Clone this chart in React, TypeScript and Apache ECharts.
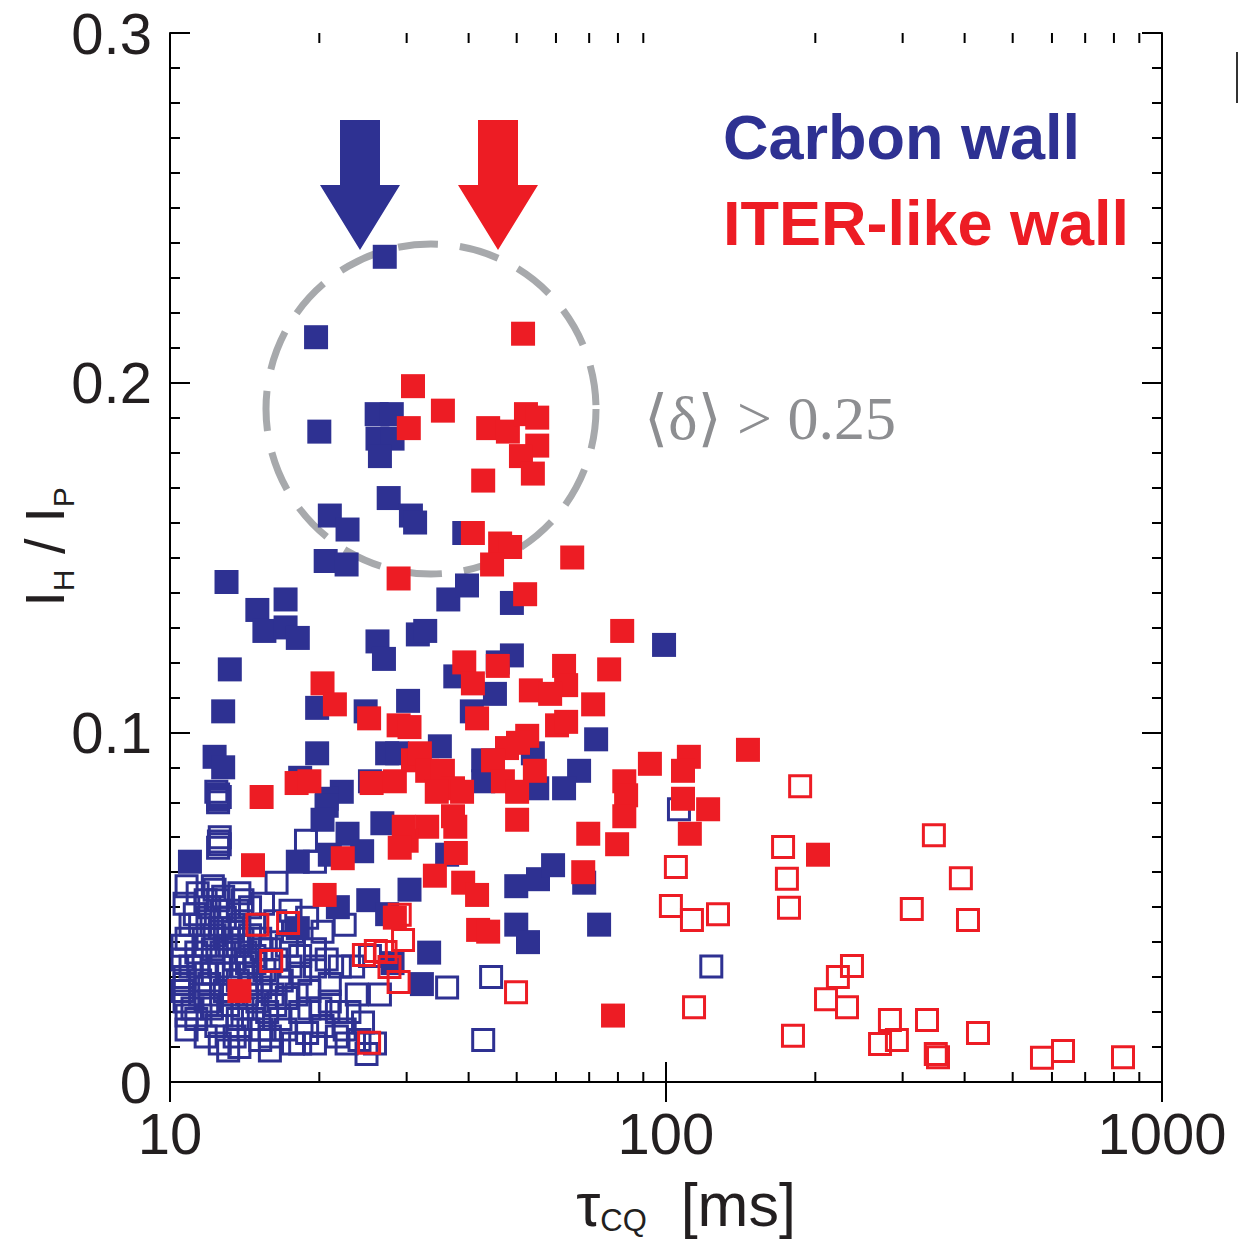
import React, { useEffect, useRef } from "react";
import * as echarts from "echarts";

const SANS = "'Liberation Sans', Arial, Helvetica, sans-serif";
const SERIF = "'Liberation Serif', 'DejaVu Serif', 'Times New Roman', serif";
const BLUE = "#2E3192";
const RED = "#ED1C24";
const INK = "#231F20";

// tick values
const yTickLabels = ["0", "0.1", "0.2", "0.3"];
const xMinorTicks = [20, 30, 40, 50, 60, 70, 80, 90, 200, 300, 400, 500, 600, 700, 800, 900];

// Carbon wall, filled symbols  [tau_CQ (ms), I_H/I_P]
const carbonFilled: number[][] = [
  [27.1, 0.236], [19.7, 0.213], [20.0, 0.186], [26.1, 0.191], [28.0, 0.191], [26.2, 0.184], [28.1, 0.184], [26.5, 0.179],
  [27.6, 0.167], [21.0, 0.162], [22.8, 0.158], [30.6, 0.162], [31.2, 0.160], [39.2, 0.157], [20.6, 0.149], [22.7, 0.148],
  [13.0, 0.143], [15.0, 0.135], [17.1, 0.138], [15.5, 0.129], [17.1, 0.130], [18.1, 0.127], [13.2, 0.118], [26.2, 0.126],
  [27.0, 0.121], [12.8, 0.106], [19.8, 0.107], [24.8, 0.106], [30.2, 0.109], [12.3, 0.093], [12.8, 0.090], [19.8, 0.094],
  [27.4, 0.094], [28.7, 0.094], [18.3, 0.087], [22.2, 0.083], [20.7, 0.081], [25.3, 0.086], [31.6, 0.128],
  [36.4, 0.138], [39.7, 0.142], [48.9, 0.137], [32.7, 0.129], [48.9, 0.122], [45.8, 0.120], [37.6, 0.116], [45.2, 0.111],
  [40.6, 0.106], [99.1, 0.125], [72.3, 0.098], [66.8, 0.089], [62.3, 0.084], [42.8, 0.092], [42.8, 0.086], [35.0, 0.096],
  [53.9, 0.094], [55.0, 0.084],
  [49.9, 0.056], [55.2, 0.058], [59.2, 0.062], [49.9, 0.045], [52.7, 0.040], [73.3, 0.045], [68.4, 0.057], [33.3, 0.037],
  [32.2, 0.028], [30.4, 0.055], [36.2, 0.065],
  [10.97, 0.063], [20.7, 0.079], [20.3, 0.075], [26.8, 0.074], [22.8, 0.071], [24.4, 0.066], [21.0, 0.065], [18.1, 0.063],
  [21.8, 0.050], [25.1, 0.052], [27.4, 0.048], [18.1, 0.044], [28.1, 0.034],
];

// Carbon wall, open symbols
const carbonOpen: number[][] = [
  [12.4, 0.083], [12.5, 0.0822], [12.6, 0.0815], [12.5, 0.0808], [12.5, 0.080], [12.6, 0.070], [12.55, 0.0688], [12.6, 0.068],
  [12.5, 0.067], [18.8, 0.069], [19.6, 0.063],
  [16.4, 0.057], [36.2, 0.027], [44.4, 0.030], [42.8, 0.012], [106.2, 0.078], [123.4, 0.033],
  [11.37, 0.054], [12.3, 0.055], [12.8, 0.053], [11.8, 0.052], [12.0, 0.050], [12.7, 0.049], [13.7, 0.049], [14.5, 0.050],
  [15.4, 0.051], [11.5, 0.045], [10.8, 0.041], [11.7, 0.041], [12.6, 0.044], [13.4, 0.044], [10.6, 0.035], [11.3, 0.037],
  [12.2, 0.038], [13.2, 0.039], [14.0, 0.041], [15.2, 0.041], [10.7, 0.028], [11.5, 0.029], [12.2, 0.031], [14.3, 0.034],
  [16.4, 0.035], [17.5, 0.033], [17.2, 0.039], [17.7, 0.043], [11.1, 0.021], [12.0, 0.023], [14.3, 0.025], [15.2, 0.027],
  [16.1, 0.025], [17.2, 0.024], [18.0, 0.025], [11.3, 0.018], [12.4, 0.016], [13.7, 0.018], [14.7, 0.018], [15.7, 0.020],
  [16.7, 0.018], [18.3, 0.020], [12.6, 0.011], [13.8, 0.010], [15.2, 0.012], [15.9, 0.009], [17.7, 0.011], [18.9, 0.014],
  [20.3, 0.016], [21.7, 0.013], [22.7, 0.011], [24.1, 0.012], [24.9, 0.008], [20.1, 0.021], [21.7, 0.020], [23.0, 0.020],
  [24.5, 0.017], [20.7, 0.035], [22.0, 0.033], [23.4, 0.033], [25.3, 0.036], [23.8, 0.025], [26.5, 0.025], [20.3, 0.043],
  [18.9, 0.047], [22.5, 0.045], [12.9, 0.047], [13.4, 0.043], [13.8, 0.045], [13.1, 0.041], [14.2, 0.037], [13.5, 0.035],
  [12.6, 0.033], [14.5, 0.031], [13.7, 0.029], [12.9, 0.026], [15.5, 0.032], [15.9, 0.038], [14.8, 0.045], [12.15, 0.021],
  [13.1, 0.022], [14.0, 0.021], [15.0, 0.023], [16.3, 0.022], [16.8, 0.029], [17.1, 0.015], [18.3, 0.011], [19.6, 0.011],
  [10.7, 0.023], [10.8, 0.015], [11.8, 0.013], [11.0, 0.033], [11.0, 0.045], [10.6, 0.039], [10.6, 0.026], [10.7, 0.030],
  [19.1, 0.026], [21.0, 0.028], [19.6, 0.033], [18.3, 0.036], [15.3, 0.015], [13.5, 0.013], [11.8, 0.031], [14.8, 0.036],
  [12.5, 0.052], [14.0, 0.052], [12.2, 0.056], [10.8, 0.056],
  [11.22, 0.048], [11.9, 0.047], [12.3, 0.042], [11.8, 0.039], [12.7, 0.037], [13.7, 0.039], [14.5, 0.042], [15.3, 0.038],
  [14.8, 0.034], [13.1, 0.031], [14.0, 0.033], [11.4, 0.033], [12.0, 0.028], [13.4, 0.025], [14.6, 0.028], [15.7, 0.029],
  [11.5, 0.025], [10.8, 0.019], [12.7, 0.019], [14.4, 0.015], [15.9, 0.013], [13.1, 0.009], [19.1, 0.021], [21.0, 0.023],
  [22.5, 0.015], [25.9, 0.011], [18.3, 0.031], [19.6, 0.038], [16.3, 0.046], [17.5, 0.049], [10.7, 0.051], [13.8, 0.054],
];

// ITER-like wall, filled symbols
const ilwFilled: number[][] = [
  [51.5, 0.214], [30.9, 0.199], [35.5, 0.192], [30.3, 0.187], [43.8, 0.187], [48.0, 0.186], [52.2, 0.191], [55.0, 0.190],
  [55.0, 0.182], [51.0, 0.179], [53.9, 0.174], [42.8, 0.172], [40.8, 0.157], [46.3, 0.154], [48.5, 0.153], [44.6, 0.148],
  [64.7, 0.150], [28.9, 0.144], [52.0, 0.1395], [81.6, 0.129], [20.3, 0.114], [21.5, 0.108], [25.2, 0.104], [28.9, 0.102],
  [30.4, 0.1015], [18.0, 0.0855], [19.1, 0.086], [15.3, 0.0815], [25.5, 0.0855], [28.4, 0.086], [30.9, 0.092], [39.2, 0.120],
  [40.8, 0.114], [45.8, 0.119], [62.3, 0.119], [62.9, 0.1135], [76.8, 0.118], [53.4, 0.112], [58.4, 0.111], [71.3, 0.108],
  [41.6, 0.104], [60.3, 0.102], [62.9, 0.103], [52.5, 0.099], [50.3, 0.097], [47.8, 0.0955], [44.8, 0.092], [92.8, 0.091],
  [82.4, 0.086], [54.4, 0.089], [46.9, 0.086], [31.9, 0.094], [33.0, 0.089], [35.5, 0.089], [37.2, 0.084], [34.5, 0.083],
  [33.0, 0.073], [37.6, 0.073], [37.7, 0.0655], [34.2, 0.059], [39.0, 0.057], [41.6, 0.0535], [30.0, 0.069], [50.1, 0.083],
  [50.1, 0.075], [41.8, 0.0435], [43.8, 0.043], [68.1, 0.060], [69.7, 0.071], [79.7, 0.068], [83.1, 0.082], [82.4, 0.076],
  [78.2, 0.019], [146.3, 0.095], [111.2, 0.093], [108.2, 0.089], [108.2, 0.081], [121.6, 0.078], [111.7, 0.071], [202.5, 0.065],
  [22.3, 0.064], [14.7, 0.062], [20.5, 0.0535], [28.4, 0.047], [13.8, 0.026], [29.6, 0.073], [29.05, 0.067], [38.8, 0.083],
  [37.2, 0.076],
];

// ITER-like wall, open symbols
const ilwOpen: number[][] = [
  [15.0, 0.045], [17.3, 0.0455], [16.0, 0.0346], [24.6, 0.0363], [26.0, 0.0375], [27.2, 0.0372], [27.7, 0.0329], [28.9, 0.0286],
  [25.2, 0.0112], [29.05, 0.0478], [29.5, 0.0406], [49.85, 0.0257], [186.4, 0.0846], [172.2, 0.0672], [104.7, 0.0615],
  [346.8, 0.0706], [175.3, 0.0581], [393.1, 0.0583], [102.3, 0.0503], [112.8, 0.0463], [127.3, 0.048], [177.0, 0.0498],
  [313.0, 0.0495], [406.3, 0.0463], [237.1, 0.0332], [222.1, 0.030], [210.2, 0.0237], [231.7, 0.0214], [113.9, 0.0214],
  [282.8, 0.0177], [335.9, 0.0177], [180.3, 0.0132], [270.1, 0.0109], [292.1, 0.012], [349.9, 0.008], [353.5, 0.0071],
  [425.6, 0.014], [572.8, 0.0069], [631.6, 0.0089], [834.4, 0.0071],
];

const axisCommon = {
  axisLine: { show: true, lineStyle: { color: "#000", width: 2 } },
  axisTick: { show: true, inside: true, length: 20, lineStyle: { color: "#000", width: 2 } },
  splitLine: { show: false },
};

function buildOption(): any {
  const filled = (color: string) => ({
    type: "scatter",
    symbol: "rect",
    symbolSize: 24,
    itemStyle: { color, opacity: 1 },
    emphasis: { disabled: true },
    silent: true,
  });
  const open = (color: string) => ({
    type: "scatter",
    symbol: "rect",
    symbolSize: 21,
    itemStyle: { color: "rgba(0,0,0,0)", borderColor: color, borderWidth: 3, opacity: 1 },
    emphasis: { disabled: true },
    silent: true,
  });

  return {
    animation: false,
    backgroundColor: "#ffffff",
    grid: { left: 170, top: 33, right: 76, bottom: 159, containLabel: false },
    xAxis: [
      {
        type: "log",
        logBase: 10,
        min: 10,
        max: 1000,
        position: "bottom",
        ...axisCommon,
        axisLabel: {
          show: true,
          fontSize: 58,
          fontFamily: SANS,
          color: INK,
          margin: 22,
          formatter: (v: number) => String(Math.round(v)),
        },
      },
      {
        type: "log",
        logBase: 10,
        min: 10,
        max: 1000,
        position: "top",
        ...axisCommon,
        axisLabel: { show: false },
      },
    ],
    yAxis: [
      {
        type: "value",
        min: 0,
        max: 0.3,
        interval: 0.1,
        position: "left",
        ...axisCommon,
        minorTick: { show: true, splitNumber: 10, length: 10, lineStyle: { color: "#000", width: 2 } },
        axisLabel: {
          show: true,
          fontSize: 58,
          fontFamily: SANS,
          color: INK,
          margin: 18,
          formatter: (v: number) => yTickLabels[Math.round(v * 10)],
        },
      },
      {
        type: "value",
        min: 0,
        max: 0.3,
        interval: 0.1,
        position: "right",
        ...axisCommon,
        minorTick: { show: true, splitNumber: 10, length: 10, lineStyle: { color: "#000", width: 2 } },
        axisLabel: { show: false },
      },
    ],
    series: [
      {
        type: "custom",
        coordinateSystem: "cartesian2d",
        xAxisIndex: 0,
        yAxisIndex: 0,
        clip: false,
        silent: true,
        z: 5,
        data: xMinorTicks.map((v) => [v, 0]),
        renderItem: (params: any, api: any) => {
          const v = api.value(0);
          const b = api.coord([v, 0]);
          const t = api.coord([v, 0.3]);
          const st = { stroke: "#000", lineWidth: 2 };
          return {
            type: "group",
            children: [
              { type: "line", shape: { x1: b[0], y1: b[1], x2: b[0], y2: b[1] - 10 }, style: st },
              { type: "line", shape: { x1: t[0], y1: t[1], x2: t[0], y2: t[1] + 10 }, style: st },
            ],
          };
        },
      },
      { name: "Carbon wall (open)", ...open(BLUE), data: carbonOpen, z: 2 },
      { name: "Carbon wall", ...filled(BLUE), data: carbonFilled, z: 3 },
      { name: "ITER-like wall (open)", ...open(RED), data: ilwOpen, z: 4 },
      { name: "ITER-like wall", ...filled(RED), data: ilwFilled, z: 4 },
    ],
    graphic: [
      {
        type: "circle",
        shape: { cx: 431, cy: 409, r: 165 },
        style: { fill: "none", stroke: "#A7A9AC", lineWidth: 7, lineDash: [40, 22] },
        z: 1,
        silent: true,
      },
      {
        type: "polygon",
        shape: { points: [[340, 120], [380, 120], [380, 185], [400, 185], [360, 250], [320, 185], [340, 185]] },
        style: { fill: BLUE },
        silent: true,
      },
      {
        type: "polygon",
        shape: { points: [[478, 120], [518, 120], [518, 185], [538, 185], [498, 250], [458, 185], [478, 185]] },
        style: { fill: RED },
        silent: true,
      },
      {
        type: "text",
        x: 723,
        y: 137,
        style: { text: "Carbon wall", fill: BLUE, fontSize: 63, fontWeight: "bold", fontFamily: SANS, align: "left", verticalAlign: "middle" },
        silent: true,
      },
      {
        type: "text",
        x: 723,
        y: 223,
        style: { text: "ITER-like wall", fill: RED, fontSize: 63, fontWeight: "bold", fontFamily: SANS, align: "left", verticalAlign: "middle" },
        silent: true,
      },
      {
        type: "text",
        x: 644,
        y: 418,
        style: { text: "\u27E8\u03B4\u27E9 > 0.25", fill: "#8D8E91", fontSize: 62, fontFamily: SERIF, align: "left", verticalAlign: "middle" },
        silent: true,
      },
      {
        type: "text",
        x: 44,
        y: 547,
        rotation: Math.PI / 2,
        style: {
          text: "{a|I}{s|H}{a| / I}{s|P}",
          align: "center",
          verticalAlign: "middle",
          rich: {
            a: { fontSize: 56, fontFamily: SANS, fill: INK, lineHeight: 68, verticalAlign: "middle" },
            s: { fontSize: 30, fontFamily: SANS, fill: INK, lineHeight: 30, verticalAlign: "bottom" },
          },
        },
        silent: true,
      },
      {
        type: "text",
        x: 686,
        y: 1205,
        style: {
          text: "{a|\u03C4}{s|CQ}{a|  [ms]}",
          align: "center",
          verticalAlign: "middle",
          rich: {
            a: { fontSize: 61, fontFamily: SANS, fill: INK, lineHeight: 62, verticalAlign: "middle" },
            s: { fontSize: 31, fontFamily: SANS, fill: INK, lineHeight: 31, verticalAlign: "bottom" },
          },
        },
        silent: true,
      },
      {
        type: "rect",
        shape: { x: 1236, y: 52, width: 2, height: 51 },
        style: { fill: "#333" },
        silent: true,
      },
    ],
  };
}

export default function App() {
  const ref = useRef<HTMLDivElement>(null);
  useEffect(() => {
    if (!ref.current) return;
    const chart = echarts.init(ref.current, undefined, { renderer: "svg" });
    chart.setOption(buildOption());
    return () => chart.dispose();
  }, []);
  return (
    <div
      ref={ref}
      style={{ position: "fixed", left: 0, top: 0, width: 1238, height: 1241, background: "#fff" }}
    />
  );
}
